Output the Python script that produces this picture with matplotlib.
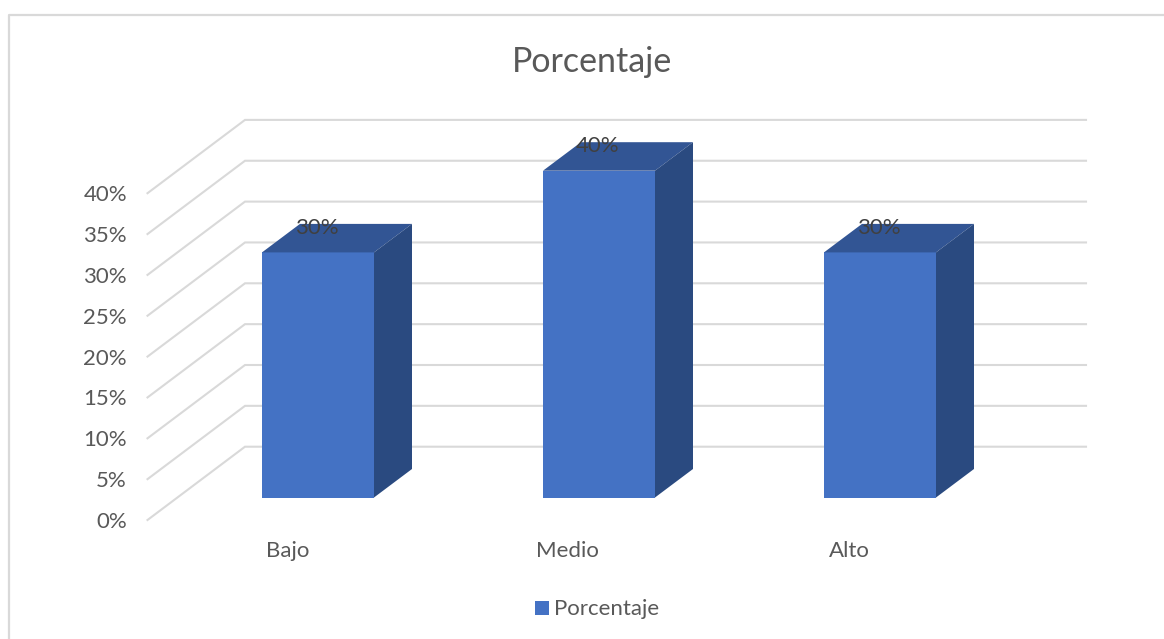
import matplotlib
matplotlib.use("Agg")
import matplotlib.pyplot as plt
from matplotlib.patches import Polygon, Rectangle
from matplotlib.lines import Line2D

plt.rcParams['font.family'] = ['Lato', 'DejaVu Sans']

categories = ["Bajo", "Medio", "Alto"]
values = [30, 40, 30]
y_ticks = [0, 5, 10, 15, 20, 25, 30, 35, 40]
title = "Porcentaje"
series_name = "Porcentaje"

W, H = 1164, 639
PX_PER_PCT = 8.17
PX_PER_CAT = 281.0
X0_PX = 318.0   # centre of first bar
Y0_PX = 497.5   # base of bar front face
BAR_W = 112.0 / PX_PER_CAT
DX = 38.0 / PX_PER_CAT
DY = 28.5 / PX_PER_PCT

fig = plt.figure(figsize=(W / 100, H / 100), dpi=100, facecolor="white")
ax = fig.add_axes([0, 0, 1, 1])
ax.set_xlim(-X0_PX / PX_PER_CAT, (W - X0_PX) / PX_PER_CAT)
ax.set_ylim(-(H - Y0_PX) / PX_PER_PCT, Y0_PX / PX_PER_PCT)
ax.axis("off")

# chart frame (left and top only, as cropped)
fig.add_artist(Line2D([9.0 / W, 9.0 / W, 1], [0, 1 - 15 / H, 1 - 15 / H],
                      color="#d9d9d9", lw=1.6, transform=fig.transFigure))

# gridlines: front wall edge -> back corner -> right
GRID_FX = (147.5 - X0_PX) / PX_PER_CAT
GRID_BX = (245.0 - X0_PX) / PX_PER_CAT
GRID_RX = (1086.0 - X0_PX) / PX_PER_CAT
GRID_FY = -(520.0 - Y0_PX) / PX_PER_PCT
GRID_BY = (Y0_PX - 446.7) / PX_PER_PCT
for v in y_ticks:
    ax.plot([GRID_FX, GRID_BX, GRID_RX], [v + GRID_FY, v + GRID_BY, v + GRID_BY],
            color="#d9d9d9", lw=1.5, solid_joinstyle="miter", zorder=1)
    ax.text(GRID_FX - 20.5 / PX_PER_CAT, v + GRID_FY - 0.25, f"{v}%", ha="right", va="center",
            fontsize=16, color="#595959")

# 3-D bars
for i, (c, v) in enumerate(zip(categories, values)):
    l, r = i - BAR_W / 2, i + BAR_W / 2
    ax.add_patch(Rectangle((l, 0), BAR_W, v, fc="#4472c4", ec="none", zorder=3))
    ax.add_patch(Polygon([(l, v), (r, v), (r + DX, v + DY), (l + DX, v + DY)],
                         fc="#325594", ec="none", zorder=3))
    ax.add_patch(Polygon([(r, 0), (r + DX, DY), (r + DX, v + DY), (r, v)],
                         fc="#2a4a80", ec="none", zorder=3))
    ax.text(i - 1 / PX_PER_CAT, v + 24.5 / PX_PER_PCT, f"{v}%", ha="center", va="center",
            fontsize=16, color="#404040", zorder=4)
    ax.text(i - 30.5 / PX_PER_CAT - (0.5 if i == 1 else 0) / PX_PER_CAT * 2, -(551 - Y0_PX) / PX_PER_PCT, c,
            ha="center", va="center", fontsize=16, color="#595959")

# title
ax.text((592 - X0_PX) / PX_PER_CAT, (Y0_PX - 62) / PX_PER_PCT, title, ha="center", va="center",
        fontsize=24.5, color="#595959")

# legend
ax.add_patch(Rectangle(((535 - X0_PX) / PX_PER_CAT, -(615 - Y0_PX) / PX_PER_PCT),
                       14 / PX_PER_CAT, 14 / PX_PER_PCT, fc="#4472c4", ec="none"))
ax.text((554 - X0_PX) / PX_PER_CAT, -(609 - Y0_PX) / PX_PER_PCT, series_name, ha="left", va="center",
        fontsize=16, color="#595959")

fig.savefig("out.png", dpi=100, facecolor="white")
